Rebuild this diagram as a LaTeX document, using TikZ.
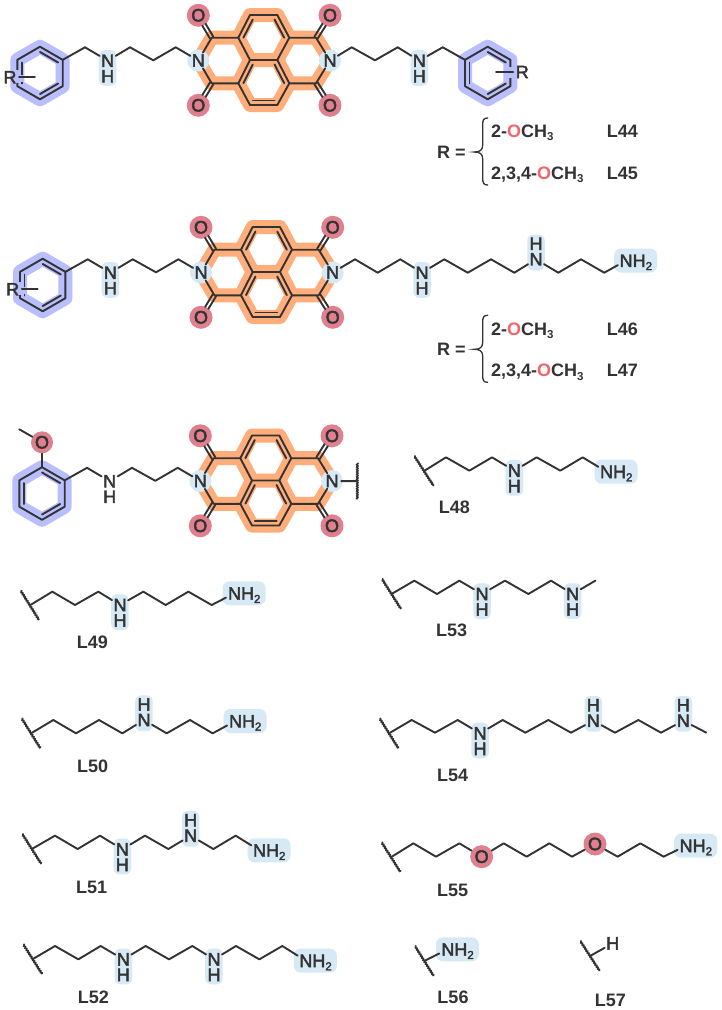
\documentclass[tikz,border=0pt]{standalone}
\usepackage{fontspec}
\setmainfont{Liberation Sans}
\newfontfamily\atomfont[FakeBold=2.5]{Liberation Sans}
\usetikzlibrary{calc,decorations.pathmorphing}
\definecolor{ink}{HTML}{333333}
\definecolor{halob}{HTML}{B9BFFE}
\definecolor{haloo}{HTML}{FFAD7A}
\definecolor{pale}{HTML}{D6E9F5}
\definecolor{pink}{HTML}{E07F8E}
\definecolor{redo}{HTML}{F4646A}
\tikzset{
  bond/.style={draw=ink,line width=1.9pt,line join=round,line cap=round},
  wavy/.style={draw=ink,line width=1.8pt,decorate,decoration={zigzag,amplitude=.5pt,segment length=2.4pt}},
  blueband/.style={draw=halob,line width=14pt,line join=round},
  orangeband/.style={draw=haloo,line width=14pt,line join=round,line cap=round},
  atom/.style={circle,inner sep=0pt,text=ink,font=\atomfont\fontsize{18}{15.5}\selectfont},
  anchorcirc/.style={circle,inner sep=0pt,minimum size=18.4pt},
  stack/.style={rectangle,inner sep=0pt,align=center,text=ink,font=\atomfont\fontsize{18}{15.5}\selectfont},
  oxy/.style={circle,inner sep=0pt,minimum size=23pt,fill=pink,text=ink,font=\atomfont\fontsize{18}{18}\selectfont},
  pill/.style={rectangle,inner sep=0pt,rounded corners=6pt,fill=pale},
  ncirc/.style={circle,inner sep=0pt,minimum size=22pt,fill=pale},
  lab/.style={inner sep=0pt,text=ink,font=\bfseries\fontsize{18}{18}\selectfont},
  brace/.style={draw=ink,line width=1.3pt,line cap=round},
  zs/.style 2 args={x=.33333pt,y=-.33333pt,xshift=#1pt,yshift=-#2pt}
}
\newcommand\lowidx[1]{\raisebox{-3.2pt}{\fontsize{11.5}{11.5}\selectfont #1}}
\newcommand\NHd[2]{%
  \node[pill,minimum width=17.5pt,minimum height=35.7pt] (#1-bg) at ([yshift=-7.2pt]#2) {};
  \node[anchorcirc] (#1) at (#2) {};
  \node[stack] (#1-t) at ([yshift=-7.75pt]#2) {N\\H};}
\newcommand\NHu[2]{%
  \node[pill,minimum width=17.5pt,minimum height=35.7pt] (#1-bg) at ([yshift=6.8pt]#2) {};
  \node[anchorcirc] (#1) at (#2) {};
  \node[stack] (#1-t) at ([yshift=7.75pt]#2) {H\\N};}
\newcommand\NHplain[2]{%
  \node[anchorcirc] (#1) at (#2) {};
  \node[stack] (#1-t) at ([yshift=-7.75pt]#2) {N\\H};}
\newcommand\NHtwo[2]{%
  \node[pill,minimum width=43pt,minimum height=24pt,rounded corners=7pt] (#1-bg) at ([xshift=9.7pt]#2) {};
  \node[anchorcirc] (#1) at (#2) {};
  \node[stack,anchor=base west] (#1-t) at ([xshift=-6.5pt,yshift=-6.4pt]#2) {NH\lowidx{2}};}
\newcommand\stub[3]{%
  \coordinate (#1-a) at (#2);
  \coordinate (#1-b) at (#3);
  \coordinate (#1) at ($(#1-a)!.5!(#1-b)$);
  \draw[wavy] (#1-a) -- (#1-b);}
\newcommand\inner[3]{\draw[bond] ($(#3)!.8!(#1)$) -- ($(#3)!.8!(#2)$);}
\newcommand\benz[3]{%
  \coordinate (#1-c) at (#2,#3);
  \coordinate (#1-1) at (#2,#3-26.3);
  \coordinate (#1-2) at (#2+22.7,#3-13.15);
  \coordinate (#1-3) at (#2+22.7,#3+13.15);
  \coordinate (#1-4) at (#2,#3+26.3);
  \coordinate (#1-5) at (#2-22.7,#3+13.15);
  \coordinate (#1-6) at (#2-22.7,#3-13.15);
  \draw[blueband] (#1-1) -- (#1-2) -- (#1-3) -- (#1-4) -- (#1-5) -- (#1-6) -- cycle;
  \draw[bond] (#1-1) -- (#1-2) -- (#1-3) -- (#1-4) -- (#1-5) -- (#1-6) -- cycle;
  \inner{#1-1}{#1-2}{#1-c}
  \inner{#1-3}{#1-4}{#1-c}
  \inner{#1-5}{#1-6}{#1-c}}
\newcommand\carbonyl[2]{%
  \draw[bond,shorten >=11pt] ($(#1)!1.9pt!90:(#2.center)$) -- ($(#2.center)!1.9pt!-90:(#1)$);
  \draw[bond,shorten >=11pt] ($(#1)!1.9pt!-90:(#2.center)$) -- ($(#2.center)!1.9pt!90:(#1)$);}
\newcommand\core[1]{%
  \coordinate (#1-L) at (238.3,37.7);
  \coordinate (#1-TL) at (250,15);
  \coordinate (#1-TR) at (277.3,15);
  \coordinate (#1-R) at (289.3,37.7);
  \coordinate (#1-CR) at (277.3,60);
  \coordinate (#1-CL) at (250,60);
  \coordinate (#1-LB) at (238.3,83.3);
  \coordinate (#1-RB) at (289.3,83.3);
  \coordinate (#1-BR) at (277.3,105);
  \coordinate (#1-BL) at (250,105);
  \coordinate (#1-c1) at (211.7,37.7);
  \coordinate (#1-c2) at (316,37.7);
  \coordinate (#1-c3) at (211.7,83.3);
  \coordinate (#1-c4) at (316,83.3);
  \coordinate (#1-tc) at (263.7,37.7);
  \coordinate (#1-bc) at (263.7,82.5);
  \coordinate (#1-nl) at (198.3,60.5);
  \coordinate (#1-nr) at (330,60.5);
  \draw[orangeband] (#1-nl) -- (#1-c1) -- (#1-L) -- (#1-TL) -- (#1-TR) -- (#1-R) -- (#1-c2) -- (#1-nr) -- (#1-c4) -- (#1-RB) -- (#1-BR) -- (#1-BL) -- (#1-LB) -- (#1-c3) -- cycle;
  \draw[orangeband] (#1-L) -- (#1-CL) -- (#1-CR) -- (#1-R);
  \draw[orangeband] (#1-LB) -- (#1-CL);
  \draw[orangeband] (#1-RB) -- (#1-CR);
  \node[ncirc] (#1-nlbg) at (#1-nl) {};
  \node[ncirc] (#1-nrbg) at (#1-nr) {};
  \node[atom] (#1-n1) at (#1-nl) {N};
  \node[atom] (#1-n2) at (#1-nr) {N};
  \node[oxy] (#1-o1) at (198.3,15.3) {O};
  \node[oxy] (#1-o2) at (330,15.3) {O};
  \node[oxy] (#1-o3) at (198.3,105.3) {O};
  \node[oxy] (#1-o4) at (330,105.3) {O};
  \draw[bond] (#1-n1) -- (#1-c1) -- (#1-L) -- (#1-TL) -- (#1-TR) -- (#1-R) -- (#1-c2) -- (#1-n2);
  \draw[bond] (#1-n1) -- (#1-c3) -- (#1-LB) -- (#1-BL) -- (#1-BR) -- (#1-RB) -- (#1-c4) -- (#1-n2);
  \draw[bond] (#1-L) -- (#1-CL) -- (#1-CR) -- (#1-R);
  \draw[bond] (#1-LB) -- (#1-CL);
  \draw[bond] (#1-RB) -- (#1-CR);
  \inner{#1-L}{#1-TL}{#1-tc}
  \inner{#1-TR}{#1-R}{#1-tc}
  \inner{#1-CL}{#1-LB}{#1-bc}
  \inner{#1-CR}{#1-RB}{#1-bc}
  \inner{#1-BL}{#1-BR}{#1-bc}
  \carbonyl{#1-c1}{#1-o1}
  \carbonyl{#1-c2}{#1-o2}
  \carbonyl{#1-c3}{#1-o3}
  \carbonyl{#1-c4}{#1-o4}}
\newcommand\linker[2]{%
  \benz{#1-bl}{40}{73}
  #2{#1-n0}{107.7,60.7}
  \draw[bond] (#1-bl-2) -- (85,47.3) -- (#1-n0);
  \draw[bond] (#1-n0) -- (130,47.3) -- (153.3,60.3) -- (175.7,47.3) -- (#1-core-n1);}
\newcommand\Rleft[1]{%
  \fill[halob] (15.7,70) rectangle (19,83);
  \fill[halob] (20,75) rectangle (23.6,82);
  \node[atom] (#1-r) at (10,77.3) {R};
  \coordinate (#1-re) at (35,77.3);
  \draw[bond] (#1-r) -- (#1-re);}
\newcommand\Rlist[4]{%
  \begin{scope}[yshift=-#1pt]
    \draw[brace] (487.7,118) .. controls (483.5,118) and (482.7,120) .. (482.7,125) -- (482.7,145)
      .. controls (482.7,150) and (480,152) .. (474.3,152)
      .. controls (480,152) and (482.7,154) .. (482.7,159) -- (482.7,178)
      .. controls (482.7,183) and (483.5,185) .. (487.7,185);
    \node[lab,anchor=base] (#4-req) at (451.3,158.3) {R =};
    \node[lab,anchor=base west] (#4-a) at (491,137.7) {2-\textcolor{redo}{O}CH\lowidx{3}};
    \node[lab,anchor=base west] (#4-b) at (491,179.5) {2,3,4-\textcolor{redo}{O}CH\lowidx{3}};
    \node[lab,anchor=base west] (#4-c) at (606.7,137.7) {#2};
    \node[lab,anchor=base west] (#4-d) at (606.7,179.5) {#3};
  \end{scope}}
\begin{document}
\begin{tikzpicture}[x=1pt,y=-1pt]
\useasboundingbox (0,0) rectangle (722,1010);
\fill[white] (0,0) rectangle (722,1010);
% ---------- L44/L45
\core{a-core}
\linker{a}{\NHd}
\Rleft{a}
\benz{a-br}{487.7}{73}
\NHd{a-n3}{419.3,60.7}
\draw[bond] (a-core-n2) -- (351.7,47.3) -- (375,60.3) -- (397.7,47.3) -- (a-n3);
\draw[bond] (a-n3) -- (442.7,47.3) -- (a-br-6);
\fill[halob] (508.4,67) rectangle (511.7,78);
\node[atom] (a-r2) at (522.3,72) {R};
\coordinate (a-re2) at (496,72);
\draw[bond] (a-r2) -- (a-re2);
\Rlist{0}{L44}{L45}{ra}
% ---------- L46/L47
\begin{scope}[xshift=2.7pt,yshift=-212pt]
\core{b-core}
\linker{b}{\NHd}
\Rleft{b}
\end{scope}
\NHd{b-n3}{422,272.7}
\NHu{b-n4}{536,259.3}
\NHtwo{b-n5}{626,260.5}
\draw[bond] (b-core-n2) -- (355,259.3) -- (377.7,272.7) -- (400.3,259.3) -- (b-n3);
\draw[bond] (b-n3) -- (444.3,259.3) -- (467.7,272.7) -- (491,259.3) -- (514.3,272.7) -- (b-n4);
\draw[bond] (b-n4) -- (558.3,272.7) -- (581,259.3) -- (604.3,272.7) -- (b-n5);
\Rlist{197.3}{L46}{L47}{rb}
% ---------- truncated core
\begin{scope}[xshift=2pt,yshift=-420.5pt]
\core{c-core}
\linker{c}{\NHplain}
\node[oxy,minimum size=22pt] (c-om) at (40,21.8) {O};
\coordinate (c-me) at (17.3,8.8);
\draw[bond] (c-om) -- (c-me);
\draw[bond] (c-om) -- (c-bl-1);
\end{scope}
\stub{c-cut}{357.3,463}{357.3,499.3}
\draw[bond] (c-core-n2) -- (c-cut);
% ---------- L48, L53
\begin{scope}[zs={361}{420}]
\stub{l48s}{160,108}{218,198}
\NHd{l48n1}{460,152}
\NHtwo{l48n2}{736,155}
\draw[bond] (l48s) -- (255,112) -- (325,152) -- (393,112) -- (l48n1);
\draw[bond] (l48n1) -- (527,112) -- (598,152) -- (665,112) -- (l48n2);
\node[lab] (l48) at (280,262) {L48};
\stub{l53s}{63,477}{120,567}
\NHd{l53n1}{363,522}
\NHd{l53n2}{635,522}
\coordinate (l53e) at (703,482);
\draw[bond] (l53s) -- (160,482) -- (228,522) -- (295,482) -- (l53n1);
\draw[bond] (l53n1) -- (432,482) -- (502,522) -- (570,482) -- (l53n2);
\draw[bond] (l53n2) -- (l53e);
\node[lab] (l53) at (272,630) {L53};
\end{scope}
% ---------- L49, L50
\begin{scope}[zs={0}{570}]
\stub{l49s}{62,62}{117,150}
\NHd{l49n1}{360,105}
\NHtwo{l49n2}{703,70}
\draw[bond] (l49s) -- (157,65) -- (225,105) -- (295,65) -- (l49n1);
\draw[bond] (l49n1) -- (430,65) -- (497,105) -- (565,65) -- (635,105) -- (l49n2);
\node[lab] (l49) at (277,218) {L49};
\stub{l50s}{65,445}{121,535}
\NHu{l50n1}{432,450}
\NHtwo{l50n2}{706,453}
\draw[bond] (l50s) -- (160,450) -- (228,490) -- (297,450) -- (367,490) -- (l50n1);
\draw[bond] (l50n1) -- (500,490) -- (570,450) -- (638,490) -- (l50n2);
\node[lab] (l50) at (278,590) {L50};
\end{scope}
% ---------- L51, L52
\begin{scope}[zs={0}{800}]
\stub{l51s}{67,102}{124,192}
\NHd{l51n1}{367,148}
\NHu{l51n2}{572,107}
\NHtwo{l51n3}{778,151}
\draw[bond] (l51s) -- (165,107) -- (233,147) -- (300,107) -- (l51n1);
\draw[bond] (l51n1) -- (435,107) -- (505,147) -- (l51n2);
\draw[bond] (l51n2) -- (640,147) -- (707,107) -- (l51n3);
\node[lab] (l51) at (275,262) {L51};
\stub{l52s}{70,433}{126,522}
\NHd{l52n1}{370,478}
\NHd{l52n2}{642,478}
\NHtwo{l52n3}{917,482}
\draw[bond] (l52s) -- (165,438) -- (235,478) -- (302,438) -- (l52n1);
\draw[bond] (l52n1) -- (437,438) -- (507,478) -- (577,438) -- (l52n2);
\draw[bond] (l52n2) -- (708,438) -- (778,478) -- (847,438) -- (l52n3);
\node[lab] (l52) at (280,593) {L52};
\end{scope}
% ---------- L54, L55, L56, L57
\begin{scope}[zs={361}{680}]
\stub{l54s}{56,115}{112,205}
\NHd{l54n1}{357,160}
\NHu{l54n2}{697,122}
\NHu{l54n3}{967,122}
\coordinate (l54e) at (1036,158);
\draw[bond] (l54s) -- (152,120) -- (222,158) -- (290,120) -- (l54n1);
\draw[bond] (l54n1) -- (425,120) -- (493,158) -- (562,120) -- (630,158) -- (l54n2);
\draw[bond] (l54n2) -- (762,158) -- (832,120) -- (900,158) -- (l54n3);
\draw[bond] (l54n3) -- (l54e);
\node[lab] (l54) at (275,285) {L54};
\stub{l55s}{62,487}{118,576}
\node[oxy] (l55o1) at (362,530) {O};
\node[oxy] (l55o2) at (702,492) {O};
\NHtwo{l55n}{975,497}
\draw[bond] (l55s) -- (157,490) -- (225,530) -- (295,490) -- (l55o1);
\draw[bond] (l55o1) -- (428,490) -- (497,530) -- (565,490) -- (633,530) -- (l55o2);
\draw[bond] (l55o2) -- (770,530) -- (838,490) -- (908,530) -- (l55n);
\node[lab] (l55) at (275,630) {L55};
\stub{l56s}{162,798}{218,888}
\NHtwo{l56n}{260,808}
\draw[bond] (l56s) -- (l56n);
\node[lab] (l56) at (276,952) {L56};
\stub{l57s}{658,783}{716,873}
\node[atom] (l57h) at (755,790) {H};
\draw[bond] (l57s) -- (l57h);
\node[lab] (l57) at (748,960) {L57};
\end{scope}
\end{tikzpicture}
\end{document}
